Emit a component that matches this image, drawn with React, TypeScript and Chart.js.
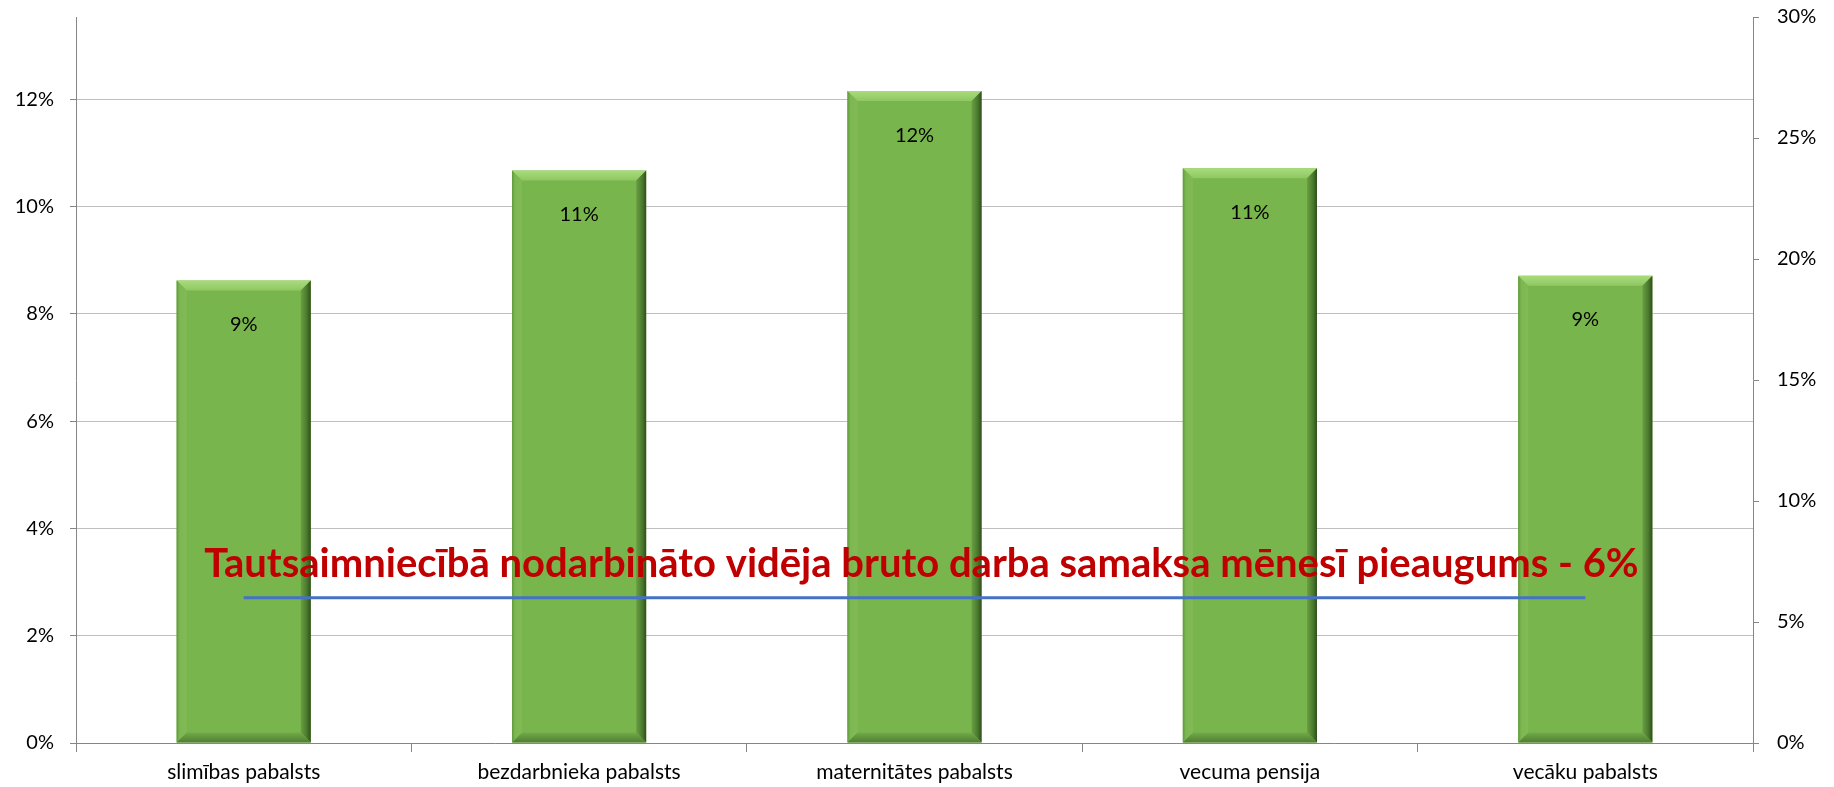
import React, { useEffect, useRef } from "react";
import { Chart, registerables } from "chart.js";

Chart.register(...registerables);

const categories = [
  "slimības pabalsts",
  "bezdarbnieka pabalsts",
  "maternitātes pabalsts",
  "vecuma pensija",
  "vecāku pabalsts",
];
const benefitGrowth = [0.0862, 0.1067, 0.1215, 0.1071, 0.0871];
const wageGrowth = [0.06, 0.06, 0.06, 0.06, 0.06];
const annotationText =
  "Tautsaimniecībā nodarbināto vidēja bruto darba samaksa mēnesī pieaugums - 6%";

const FONT = "Lato, 'Open Sans', sans-serif";

const bevelPlugin = {
  id: "bevel",
  afterDatasetDraw(chart: any, args: any) {
    if (args.index !== 0) return;
    const ctx = chart.ctx;
    const meta = chart.getDatasetMeta(0);
    meta.data.forEach((bar: any) => {
      const w = bar.width;
      const l = bar.x - w / 2;
      const r = bar.x + w / 2;
      const t = bar.y;
      const b = bar.base;
      const e = 10;
      ctx.save();
      let g = ctx.createLinearGradient(0, t, 0, t + e);
      g.addColorStop(0, "#a9dc7c");
      g.addColorStop(1, "#8fc762");
      ctx.fillStyle = g;
      ctx.beginPath();
      ctx.moveTo(l, t);
      ctx.lineTo(r, t);
      ctx.lineTo(r - e, t + e);
      ctx.lineTo(l + e, t + e);
      ctx.closePath();
      ctx.fill();
      g = ctx.createLinearGradient(l, 0, l + e, 0);
      g.addColorStop(0, "#5f9a3c");
      g.addColorStop(0.3, "#7db752");
      g.addColorStop(1, "#82bb56");
      ctx.fillStyle = g;
      ctx.beginPath();
      ctx.moveTo(l, t);
      ctx.lineTo(l + e, t + e);
      ctx.lineTo(l + e, b - e);
      ctx.lineTo(l, b);
      ctx.closePath();
      ctx.fill();
      g = ctx.createLinearGradient(r - e, 0, r, 0);
      g.addColorStop(0, "#6a9f44");
      g.addColorStop(0.6, "#4a7a2e");
      g.addColorStop(1, "#2f4e1c");
      ctx.fillStyle = g;
      ctx.beginPath();
      ctx.moveTo(r, t);
      ctx.lineTo(r, b);
      ctx.lineTo(r - e, b - e);
      ctx.lineTo(r - e, t + e);
      ctx.closePath();
      ctx.fill();
      g = ctx.createLinearGradient(0, b - e, 0, b);
      g.addColorStop(0, "#72ab49");
      g.addColorStop(1, "#4f7d32");
      ctx.fillStyle = g;
      ctx.beginPath();
      ctx.moveTo(l, b);
      ctx.lineTo(r, b);
      ctx.lineTo(r - e, b - e);
      ctx.lineTo(l + e, b - e);
      ctx.closePath();
      ctx.fill();
      ctx.restore();
    });
  },
};

const labelsPlugin = {
  id: "labelsAndNote",
  afterDatasetsDraw(chart: any) {
    const ctx = chart.ctx;
    const meta = chart.getDatasetMeta(0);
    ctx.save();
    ctx.fillStyle = "#000";
    ctx.font = `20px ${FONT}`;
    ctx.textAlign = "center";
    ctx.textBaseline = "middle";
    meta.data.forEach((bar: any, i: number) => {
      ctx.fillText(Math.round(benefitGrowth[i] * 100) + "%", bar.x, bar.y + 44);
    });
    const y1 = chart.scales.y1;
    const lineY = y1.getPixelForValue(wageGrowth[0]);
    const xs = chart.scales.x;
    const cx = (xs.getPixelForValue(0) + xs.getPixelForValue(categories.length - 1)) / 2 + 7;
    ctx.font = `bold 40px ${FONT}`;
    ctx.fillStyle = "#c00000";
    ctx.textBaseline = "alphabetic";
    ctx.fillText(annotationText, cx, lineY - 21);
    ctx.restore();
  },
};

export default function App() {
  const ref = useRef<HTMLCanvasElement>(null);
  useEffect(() => {
    document.body.style.margin = "0";
    document.body.style.overflow = "hidden";
    const chart = new Chart(ref.current!, {
      type: "bar",
      data: {
        labels: categories,
        datasets: [
          {
            type: "bar",
            data: benefitGrowth,
            backgroundColor: "#79b54d",
            borderWidth: 0,
            categoryPercentage: 1,
            barPercentage: 0.4,
            yAxisID: "y",
            order: 1,
          },
          {
            type: "line",
            data: wageGrowth,
            borderColor: "#4472c4",
            borderWidth: 3,
            pointRadius: 0,
            yAxisID: "y1",
            order: 0,
          } as any,
        ],
      },
      options: {
        animation: false,
        responsive: true,
        maintainAspectRatio: false,
        layout: { autoPadding: false, padding: { top: 17, left: 0, right: 0, bottom: 0 } },
        plugins: { legend: { display: false }, tooltip: { enabled: false } },
        scales: {
          x: {
            grid: {
              offset: true,
              drawOnChartArea: false,
              tickLength: 9,
              color: "#868686",
            },
            border: { color: "#868686" },
            ticks: { font: { family: FONT, size: 21 }, color: "#000", padding: 8 },
            afterFit: (s: any) => {
              s.height = 44;
              s.paddingLeft = 0;
              s.paddingRight = 0;
            },
          },
          y: {
            position: "left",
            min: 0,
            max: 0.1353,
            ticks: {
              stepSize: 0.02,
              font: { family: FONT, size: 20 },
              color: "#000",
              padding: 16,
              callback: (v: any) => Math.round(v * 100) + "%",
            },
            afterBuildTicks: (s: any) => {
              s.ticks = s.ticks.filter(
                (t: any) => Math.abs(t.value / 0.02 - Math.round(t.value / 0.02)) < 1e-6
              );
            },
            grid: { color: "#bfbfbf", tickLength: 6, tickColor: "#868686" },
            border: { color: "#868686" },
            afterFit: (s: any) => {
              s.width = 76;
              s.paddingTop = 0;
              s.paddingBottom = 0;
            },
          },
          y1: {
            position: "right",
            min: 0,
            max: 0.3,
            ticks: {
              stepSize: 0.05,
              font: { family: FONT, size: 20 },
              color: "#000",
              padding: 18,
              callback: (v: any) => Math.round(v * 100) + "%",
            },
            grid: { drawOnChartArea: false, tickLength: 6, color: "#868686" },
            border: { color: "#868686" },
            afterFit: (s: any) => {
              s.width = 81;
              s.paddingTop = 0;
              s.paddingBottom = 0;
            },
          },
        },
      },
      plugins: [bevelPlugin, labelsPlugin],
    });
    return () => chart.destroy();
  }, []);
  return (
    <div style={{ width: 1834, height: 787, position: "relative" }}>
      <canvas ref={ref} />
    </div>
  );
}
